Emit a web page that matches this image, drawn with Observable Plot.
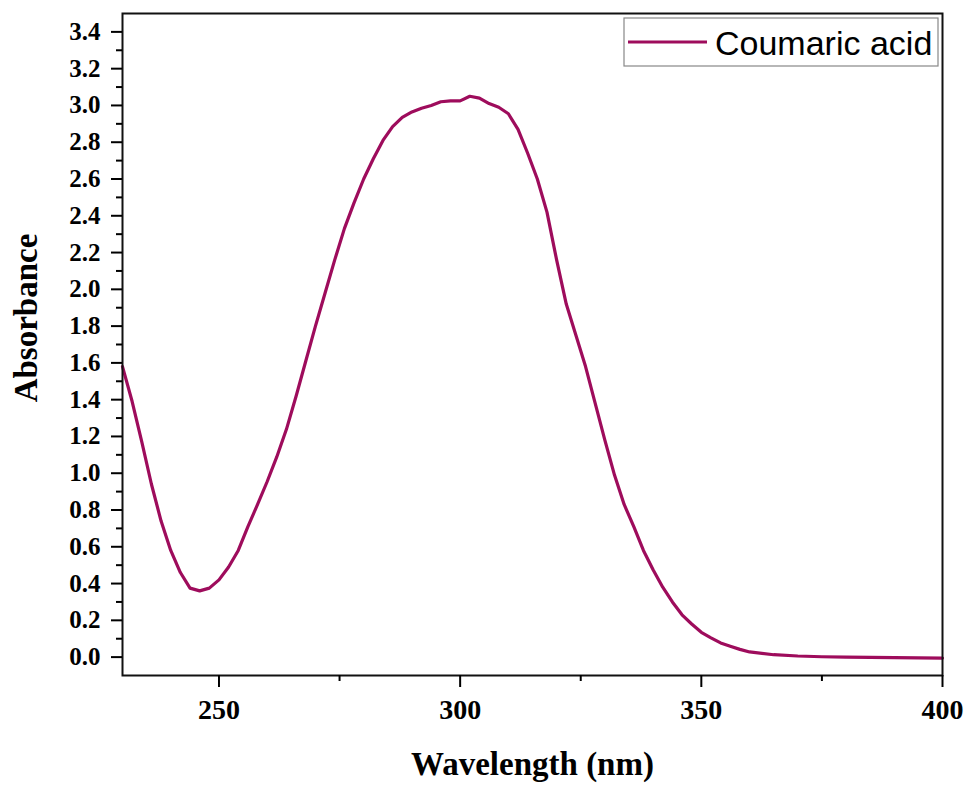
<!DOCTYPE html>
<html>
<head>
<meta charset="utf-8">
<script src="https://cdn.jsdelivr.net/npm/d3@7"></script>
<script src="https://cdn.jsdelivr.net/npm/@observablehq/plot@0.6"></script>
<style>
  html, body { margin: 0; padding: 0; background: white; }
</style>
</head>
<body>
<div id="chart"></div>
<script>
const seriesName = "Coumaric acid";
const wavelength = [230,232,234,236,238,240,242,244,246,248,250,252,254,256,258,260,262,264,266,268,270,272,274,276,278,280,282,284,286,288,290,292,294,296,298,300,302,304,306,308,310,312,314,316,318,320,322,324,326,328,330,332,334,336,338,340,342,344,346,348,350,352,354,356,358,360,365,370,375,380,390,400];
const absorbance = [1.58,1.39,1.17,0.94,0.74,0.58,0.46,0.375,0.36,0.375,0.42,0.49,0.58,0.71,0.83,0.955,1.09,1.24,1.42,1.61,1.80,1.98,2.16,2.33,2.47,2.60,2.71,2.81,2.885,2.935,2.965,2.985,3.0,3.02,3.025,3.025,3.05,3.04,3.01,2.99,2.955,2.87,2.74,2.60,2.42,2.16,1.92,1.75,1.58,1.38,1.18,0.99,0.83,0.71,0.58,0.475,0.38,0.30,0.23,0.18,0.135,0.105,0.077,0.059,0.042,0.028,0.013,0.006,0.002,0.0,-0.003,-0.005];
const xMajorTicks = [250, 300, 350, 400];
const xMinorTicks = [275, 325, 375];
const yMajorTicks = [0.0,0.2,0.4,0.6,0.8,1.0,1.2,1.4,1.6,1.8,2.0,2.2,2.4,2.6,2.8,3.0,3.2,3.4];
const yMinorTicks = [0.1,0.3,0.5,0.7,0.9,1.1,1.3,1.5,1.7,1.9,2.1,2.3,2.5,2.7,2.9,3.1,3.3];
const xTitle = "Wavelength (nm)";
const yTitle = "Absorbance";

const lineColor = "#9E0C5C";
const serif = "'Liberation Serif', 'Times New Roman', serif";
const data = wavelength.map((w, i) => ({w, a: absorbance[i]}));

const chart = Plot.plot({
  width: 970,
  height: 786,
  marginLeft: 122,
  marginRight: 28,
  marginTop: 13,
  marginBottom: 111,
  style: {background: "white", color: "black"},
  x: {domain: [230, 400]},
  y: {domain: [-0.1, 3.5]},
  marks: [
    Plot.line(data, {x: "w", y: "a", stroke: lineColor, strokeWidth: 3.2}),
    Plot.frame({stroke: "#111", strokeWidth: 2}),
    Plot.axisX({ticks: xMajorTicks, tickSize: 12, tickPadding: 12, strokeWidth: 2, fontSize: 28, fontWeight: "bold", fontFamily: serif, label: null, tickFormat: d => String(d)}),
    Plot.axisX({ticks: xMinorTicks, tickSize: 6, strokeWidth: 2, text: null, label: null}),
    Plot.axisY({ticks: yMajorTicks, tickSize: 11, tickPadding: 11, strokeWidth: 2, fontSize: 25, fontWeight: "bold", fontFamily: serif, label: null, tickFormat: d3.format(".1f")}),
    Plot.axisY({ticks: yMinorTicks, tickSize: 6, strokeWidth: 2, text: null, label: null}),
    Plot.text([xTitle], {text: d => d, frameAnchor: "bottom", dy: 89, fontSize: 33, fontWeight: "bold", fontFamily: serif, lineAnchor: "middle"})
  ]
});

const svg = d3.select(chart);
// y axis title
svg.append("text")
  .attr("transform", "translate(25,318) rotate(-90)")
  .attr("text-anchor", "middle")
  .attr("dy", "0.35em")
  .attr("font-family", serif).attr("font-weight", "bold").attr("font-size", 33)
  .attr("fill", "black")
  .text(yTitle);

// legend inside the frame, top-right
const lg = svg.append("g");
lg.append("rect").attr("x", 624).attr("y", 18).attr("width", 314).attr("height", 48)
  .attr("fill", "white").attr("stroke", "#888").attr("stroke-width", 1.2);
lg.append("line").attr("x1", 628).attr("x2", 707).attr("y1", 42).attr("y2", 42)
  .attr("stroke", lineColor).attr("stroke-width", 3);
lg.append("text").attr("x", 715).attr("y", 55).attr("text-anchor", "start").text(seriesName)
  .attr("font-family", "'Liberation Sans', Arial, sans-serif").attr("font-size", 34).attr("fill", "black");

document.getElementById("chart").appendChild(chart);
</script>
</body>
</html>
